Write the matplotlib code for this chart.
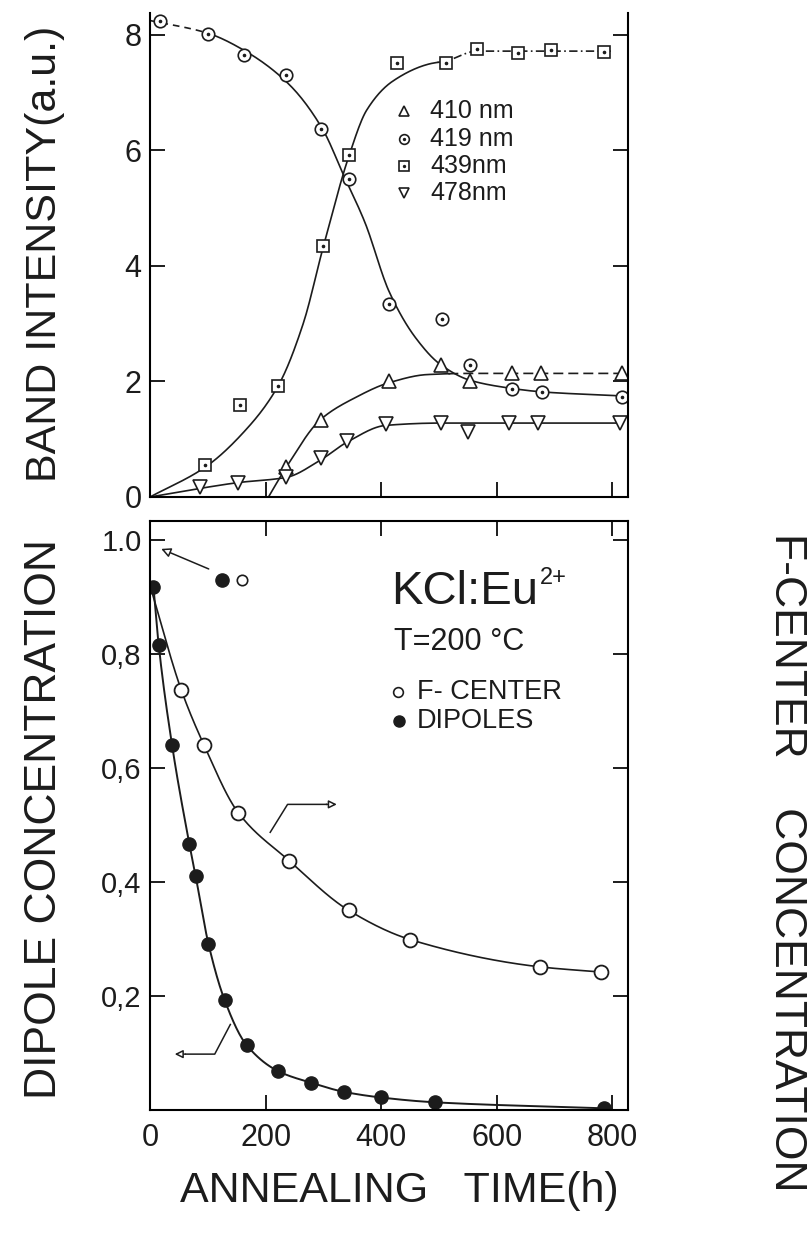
import numpy as np
import matplotlib
matplotlib.use("Agg")
import matplotlib.pyplot as plt

# ---- data ----
# upper panel: band intensity (a.u.) vs annealing time (h)
t410 = [236, 295, 414, 503, 554, 626, 676, 817]
v410 = [0.52, 1.34, 2.00, 2.29, 2.00, 2.14, 2.14, 2.14]
t419 = [17, 100, 163, 236, 295, 344, 414, 506, 553, 626, 679, 817]
v419 = [8.25, 8.02, 7.65, 7.30, 6.37, 5.51, 3.35, 3.08, 2.28, 1.87, 1.81, 1.74]
t439 = [96, 156, 222, 300, 345, 427, 512, 566, 636, 693, 785]
v439 = [0.55, 1.59, 1.93, 4.34, 5.93, 7.51, 7.52, 7.76, 7.68, 7.74, 7.70]
t478 = [87, 153, 236, 295, 341, 408, 503, 550, 621, 672, 814]
v478 = [0.18, 0.25, 0.34, 0.68, 0.97, 1.26, 1.28, 1.12, 1.28, 1.28, 1.28]

# hand-drawn guide curves of the upper panel
fit410_t = [205, 236, 295, 355, 414, 480, 554, 817]
fit410_v = [0.0, 0.52, 1.34, 1.72, 1.98, 2.12, 2.14, 2.14]
fit419_t = [0, 100, 165, 240, 298, 336, 372, 414, 460, 503, 554, 626, 678, 817]
fit419_v = [8.25, 8.03, 7.72, 7.15, 6.38, 5.55, 4.75, 3.55, 2.75, 2.29, 2.02, 1.88, 1.82, 1.75]
fit439_t = [0, 96, 160, 222, 265, 300, 345, 375, 420, 484, 512, 566, 636, 800]
fit439_v = [0.0, 0.52, 1.10, 1.93, 3.00, 4.34, 5.93, 6.70, 7.20, 7.50, 7.55, 7.72, 7.72, 7.72]
fit478_t = [0, 87, 153, 236, 295, 341, 408, 503, 817]
fit478_v = [0.0, 0.15, 0.25, 0.34, 0.64, 0.95, 1.24, 1.28, 1.28]

# lower panel: dipole and F-center concentration
dip_t = [6, 15, 38, 68, 79, 101, 129, 167, 222, 278, 335, 399, 493, 785]
dip_v = [0.917, 0.816, 0.641, 0.467, 0.410, 0.292, 0.193, 0.114, 0.068, 0.048, 0.032, 0.022, 0.0135, 0.003]
fc_t = [54, 93, 153, 241, 344, 450, 675, 780]
fc_v = [0.737, 0.641, 0.521, 0.437, 0.350, 0.299, 0.251, 0.242]
fc_start = 0.92

band_ticks = [0, 2, 4, 6, 8]
conc_ticks = [0.2, 0.4, 0.6, 0.8, 1.0]
conc_labels = ["0,2", "0,4", "0,6", "0,8", "1.0"]
time_ticks = [0, 200, 400, 600, 800]


def pchip(x, y, xs):
    # monotone cubic through the given points
    x = np.asarray(x, float)
    y = np.asarray(y, float)
    h = np.diff(x)
    d = np.diff(y) / h
    m = np.zeros_like(y)
    m[0], m[-1] = d[0], d[-1]
    for k in range(1, len(x) - 1):
        if d[k - 1] * d[k] > 0:
            w1 = 2 * h[k] + h[k - 1]
            w2 = h[k] + 2 * h[k - 1]
            m[k] = (w1 + w2) / (w1 / d[k - 1] + w2 / d[k])
    i = np.clip(np.searchsorted(x, xs) - 1, 0, len(h) - 1)
    s = (xs - x[i]) / h[i]
    return ((2 * s**3 - 3 * s**2 + 1) * y[i] + (s**3 - 2 * s**2 + s) * h[i] * m[i]
            + (-2 * s**3 + 3 * s**2) * y[i + 1] + (s**3 - s**2) * h[i] * m[i + 1])


def smooth(x, y, n=300):
    xs = np.linspace(x[0], x[-1], n)
    return xs, pchip(x, y, xs)


plt.rcParams["font.family"] = ["Liberation Sans", "DejaVu Sans"]
plt.rcParams["axes.linewidth"] = 1.5

fig = plt.figure(figsize=(8.09, 12.33), dpi=100)
ax1 = fig.add_axes([150 / 809, 1 - 497 / 1233, 478 / 809, 484 / 1233])
ax2 = fig.add_axes([150 / 809, 1 - 1110 / 1233, 478 / 809, 589 / 1233])

lc = "#1c1c1c"
dashdot = (0, (5, 2, 1, 2))

# ---------- upper panel ----------
xs, ys = smooth(fit410_t, fit410_v)
ax1.plot(xs[xs <= 520], ys[xs <= 520], color=lc, lw=1.2)
ax1.plot(xs[xs >= 515], ys[xs >= 515], color=lc, lw=1.2, ls=(0, (6, 3)))
xs, ys = smooth(fit478_t, fit478_v)
ax1.plot(xs, ys, color=lc, lw=1.2)
xs, ys = smooth(fit419_t, fit419_v)
ax1.plot(xs[xs <= 110], ys[xs <= 110], color=lc, lw=1.2, ls=(0, (4, 3)))
ax1.plot(xs[xs >= 105], ys[xs >= 105], color=lc, lw=1.2)
xs, ys = smooth(fit439_t, fit439_v)
ax1.plot(xs[xs <= 500], ys[xs <= 500], color=lc, lw=1.2)
ax1.plot(xs[xs >= 495], ys[xs >= 495], color=lc, lw=1.2, ls=dashdot)

mk = dict(ls="none", mfc="white", mec=lc, mew=1.2)
ax1.plot(t410, v410, marker="^", ms=9.5, **mk)
ax1.plot(t419, v419, marker="o", ms=9, **mk)
ax1.plot(t439, v439, marker="s", ms=8.5, **mk)
ax1.plot(t478, v478, marker="v", ms=9.5, **mk)
ax1.plot(t419, v419, ls="none", marker="o", ms=1.6, color=lc)
ax1.plot(t439, v439, ls="none", marker="o", ms=1.6, color=lc)

# legend of the upper panel
leg_rows = [("^", "410 nm"), ("o", "419 nm"), ("s", "439nm"), ("v", "478nm")]
for k, (m, lab) in enumerate(leg_rows):
    yy = 6.68 - 0.475 * k
    ax1.plot([440], [yy], marker=m, ls="none", mfc="white", mec=lc, mew=1.2, ms=7)
    if m in "os":
        ax1.plot([440], [yy], marker="o", ms=1.4, color=lc)
    ax1.text(485, yy, lab, fontsize=18, va="center", ha="left", color=lc)

ax1.set_xlim(0, 827)
ax1.set_ylim(0, 8.38)
ax1.spines["top"].set_visible(False)
ax1.set_yticks(band_ticks)
ax1.set_yticklabels([str(b) for b in band_ticks])
ax1.set_xticks(time_ticks[1:])
ax1.set_xticklabels([])
ax1.tick_params(axis="both", direction="in", length=11, width=1.4,
                labelsize=22, right=True, pad=6, colors=lc)
ax1.tick_params(axis="x", top=False)

# ---------- lower panel ----------
xs, ys = smooth([0] + fc_t, [fc_start] + fc_v)
ax2.plot(xs, ys, color=lc, lw=1.2)
xs, ys = smooth(dip_t, dip_v)
ax2.plot(xs, ys, color=lc, lw=1.4)
ax2.plot(fc_t, fc_v, ls="none", marker="o", ms=10, mfc="white", mec=lc, mew=1.3)
ax2.plot(dip_t, dip_v, ls="none", marker="o", ms=9.5, color=lc)

# arrows pointing to the axes
ax2.annotate("", xy=(15, 0.986), xytext=(106, 0.947),
             arrowprops=dict(arrowstyle="-|>", lw=1.1, color=lc, fc="white",
                             mutation_scale=14))
ax2.plot([124], [0.93], marker="o", ms=9.5, color=lc)
ax2.plot([160], [0.93], marker="o", ms=7.5, mfc="white", mec=lc, mew=1.2)
ax2.plot([208, 238, 305], [0.487, 0.536, 0.536], color=lc, lw=1.1)
ax2.annotate("", xy=(328, 0.536), xytext=(300, 0.536),
             arrowprops=dict(arrowstyle="-|>", lw=1.1, color=lc, fc="white",
                             mutation_scale=12))
ax2.plot([139, 112, 62], [0.15, 0.098, 0.098], color=lc, lw=1.1)
ax2.annotate("", xy=(38, 0.098), xytext=(66, 0.098),
             arrowprops=dict(arrowstyle="-|>", lw=1.1, color=lc, fc="white",
                             mutation_scale=12))

kcl = ax2.text(417, 0.888, "KCl:Eu", fontsize=34, ha="left",
               va="baseline", color=lc)
ax2.annotate("2+", xy=(1, 1), xycoords=kcl, xytext=(1, 2),
             textcoords="offset points", fontsize=17, ha="left", va="top",
             color=lc)
ax2.text(422, 0.806, "T=200 °C", fontsize=22, ha="left", va="baseline", color=lc)
ax2.plot([429], [0.733], marker="o", ms=7, mfc="white", mec=lc, mew=1.2)
ax2.text(462, 0.733, "F- CENTER", fontsize=19.5, ha="left", va="center", color=lc)
ax2.plot([431], [0.683], marker="o", ms=8, color=lc)
ax2.text(462, 0.683, "DIPOLES", fontsize=19.5, ha="left", va="center", color=lc)

ax2.set_xlim(0, 827)
ax2.set_ylim(0, 1.033)
ax2.set_xticks(time_ticks)
ax2.set_xticklabels([str(t) for t in time_ticks])
ax2.set_yticks(conc_ticks)
ax2.set_yticklabels(conc_labels)
ax2.tick_params(axis="both", direction="in", length=11, width=1.4,
                labelsize=21, right=True, top=True, pad=6, colors=lc)
ax2.tick_params(axis="x", labelsize=22, pad=9)

# axis titles
fig.text(45 / 809, 1 - 254 / 1233, "BAND INTENSITY(a.u.)", rotation=90,
         fontsize=31, ha="center", va="center", color=lc)
fig.text(45 / 809, 1 - 819 / 1233, "DIPOLE CONCENTRATION", rotation=90,
         fontsize=32, ha="center", va="center", color=lc)
fig.text(786 / 809, 1 - 862 / 1233, "F-CENTER    CONCENTRATION", rotation=270,
         fontsize=32, ha="center", va="center", color=lc)
fig.text(399 / 809, 1 - 1191 / 1233, "ANNEALING   TIME(h)",
         fontsize=31, ha="center", va="center", color=lc)

fig.savefig("out.png", dpi=100, facecolor="white")
